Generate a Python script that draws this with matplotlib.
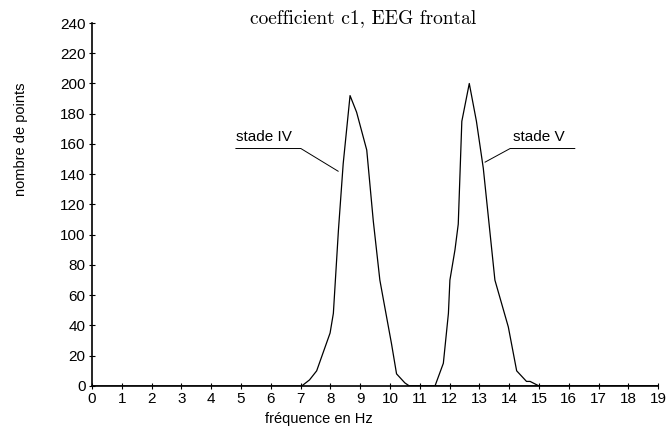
import matplotlib
matplotlib.use("Agg")
import matplotlib.pyplot as plt

# Données (fréquence en Hz, nombre de points)
freq_iv = [0, 6.5, 7.04, 7.3, 7.54, 7.99, 8.1, 8.27, 8.43, 8.66, 8.88, 9.22, 9.44, 9.66, 9.78, 10.05, 10.22, 10.5, 10.65, 19]
pts_iv = [0, 0, 0, 4, 10, 35, 48, 103, 147, 192, 181, 156, 109, 70, 57, 28, 8, 2, 0, 0]

freq_v = [10.6, 11.51, 11.79, 11.96, 12.01, 12.18, 12.29, 12.41, 12.66, 12.9, 13.13, 13.52, 13.97, 14.25, 14.58, 14.7, 15.0, 19]
pts_v = [0, 0, 15, 48, 70, 90, 107, 175, 200, 175, 144, 70, 39, 10, 3, 3, 0, 0]

xticks = list(range(0, 20))
yticks = list(range(0, 241, 20))

fig = plt.figure(figsize=(6.71, 4.26), dpi=100)
ax = fig.add_axes([0.137, 0.094, 0.844, 0.852])

ax.plot(freq_iv, pts_iv, color="black", lw=0.9)
ax.plot(freq_v, pts_v, color="black", lw=0.9)

# étiquettes avec traits de rappel
ax.plot([4.83, 7.01, 8.26], [157, 157, 142], color="black", lw=0.7)
ax.text(4.83, 160, "stade IV", fontsize=11, family="Liberation Sans", ha="left", va="bottom")
ax.plot([16.2, 14.03, 13.19], [157, 157, 148], color="black", lw=0.7)
ax.text(14.13, 160, "stade V", fontsize=11, family="Liberation Sans", ha="left", va="bottom")

ax.set_xlim(0, 19)
ax.set_ylim(0, 240)
ax.set_xticks(xticks)
ax.set_yticks(yticks)
for lab in ax.get_xticklabels() + ax.get_yticklabels():
    lab.set_family("Liberation Sans")
    lab.set_fontsize(11)
ax.tick_params(direction="inout", length=5, width=0.8, pad=2)

ax.spines["top"].set_visible(False)
ax.spines["right"].set_visible(False)
ax.spines["left"].set_linewidth(1.2)
ax.spines["bottom"].set_linewidth(1.2)

ax.set_xlabel("fréquence en Hz", fontsize=10.5, family="Liberation Sans")
ax.xaxis.set_label_coords(0.4, -0.072)
ax.set_ylabel("nombre de points", fontsize=10.5, family="Liberation Sans")
ax.yaxis.set_label_coords(-0.113, 0.68)

fig.text(0.541, 0.957, "coefficient c1, EEG frontal", fontsize=14, family="cmr10",
         ha="center", va="center")

fig.savefig("out.png", dpi=100)
